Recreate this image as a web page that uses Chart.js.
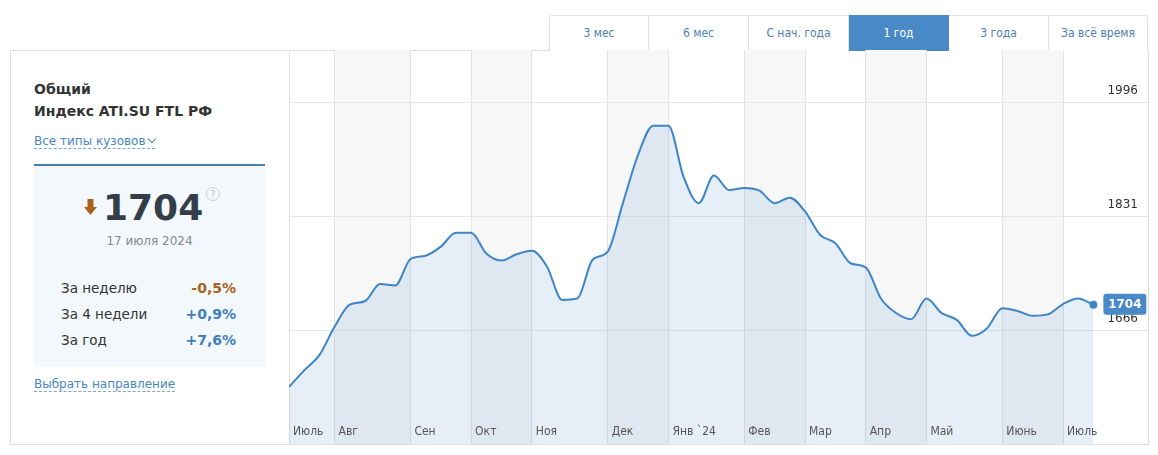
<!DOCTYPE html>
<html lang="ru">
<head>
<meta charset="utf-8">
<title>Индекс ATI.SU FTL РФ</title>
<script src="https://cdn.jsdelivr.net/npm/chart.js@4.4.1/dist/chart.umd.min.js"></script>
<style>
    body { margin: 0; width: 1158px; height: 455px; overflow: hidden; position: relative; background: #fff;
           font-family: "DejaVu Sans", Verdana, sans-serif; color: #333; }
    .card { position: absolute; left: 10px; top: 50px; width: 1139px; height: 395px; box-sizing: border-box;
            border: 1px solid #dedede; }
    .side { position: absolute; left: 10px; top: 50px; width: 280px; height: 395px; box-sizing: border-box;
            border-right: 1px solid #e2e2e2; }
    .abs { position: absolute; white-space: nowrap; }
    .title { left: 34px; font-weight: bold; font-size: 14px; line-height: 16px; color: #333; }
    .link { left: 34px; font-size: 12px; line-height: 14px; color: #4a86c0; border-bottom: 1px dashed #7aa7d4; }
    .chev { display: inline-block; width: 5px; height: 5px; border-right: 1.5px solid #4a86c0; border-bottom: 1.5px solid #4a86c0;
            transform: rotate(45deg); margin-left: 3px; position: relative; top: -3px; }
    .box { position: absolute; left: 34px; top: 164px; width: 231px; height: 203px; box-sizing: border-box;
           background: #f3f8fc; border-top: 2px solid #4d7ea8; border-radius: 0 0 4px 4px; }
    .big { left: 103px; top: 186px; font-size: 36px; font-weight: bold; line-height: 44px; color: #343e48; }
    .help { left: 206px; top: 187px; width: 12px; height: 12px; border: 1px solid #cfcfcf; border-radius: 50%;
            font-size: 9px; line-height: 12px; text-align: center; color: #bbb; }
    .date { left: 34px; width: 231px; top: 233px; text-align: center; font-size: 12px; line-height: 16px; color: #888; }
    .row-l { left: 61px; font-size: 13.5px; line-height: 16px; color: #333; }
    .row-v { right: 922px; font-size: 14px; font-weight: bold; line-height: 16px; }
    .down { color: #a8621e; }
    .up { color: #3f7fc0; }
    .tabs { position: absolute; left: 549px; top: 15px; height: 36px; display: flex; }
    .tab { width: 100px; height: 36px; box-sizing: border-box; border: 1px solid #e2e2e2; border-bottom: none;
           border-left: none; font-size: 12px; line-height: 34px; text-align: center; color: #4f7fae; background: #fff;
           font-family: "DejaVu Sans Condensed", "DejaVu Sans", sans-serif; }
    .tab:first-child { border-left: 1px solid #e2e2e2; border-radius: 3px 0 0 0; }
    .tab:last-child { width: 99px; border-radius: 0 3px 0 0; }
    .tab.active { background: #4a89c8; color: #fff; border-color: #4a89c8; }
    .chart-wrap { position: absolute; left: 289px; top: 50px; width: 859px; height: 394px; }
</style>
</head>
<body>
<div class="card"></div>
<div class="side"></div>

<div class="tabs">
    <div class="tab">3 мес</div>
    <div class="tab">6 мес</div>
    <div class="tab">С нач. года</div>
    <div class="tab active">1 год</div>
    <div class="tab">3 года</div>
    <div class="tab">За всё время</div>
</div>

<div class="abs title" style="top:81px">Общий</div>
<div class="abs title" style="top:103px">Индекс ATI.SU FTL РФ</div>
<div class="abs link" style="top:134px">Все типы кузовов<span class="chev"></span></div>

<div class="box"></div>
<svg class="abs" style="left:84px;top:199px" width="13" height="17" viewBox="0 0 13 17">
    <rect x="3.5" y="0" width="6" height="9" fill="#a8621e"/>
    <polygon points="0,8 13,8 6.5,16" fill="#a8621e"/>
</svg>
<div class="abs big">1704</div>
<div class="abs help">?</div>
<div class="abs date">17 июля 2024</div>

<div class="abs row-l" style="top:280px">За неделю</div>
<div class="abs row-v down" style="top:280px">-0,5%</div>
<div class="abs row-l" style="top:306px">За 4 недели</div>
<div class="abs row-v up" style="top:306px">+0,9%</div>
<div class="abs row-l" style="top:332px">За год</div>
<div class="abs row-v up" style="top:332px">+7,6%</div>

<div class="abs link" style="top:377px">Выбрать направление</div>

<div class="chart-wrap"><canvas id="atiChart"></canvas></div>

<script>
// Weekly index values, Jul 2023 - Jul 2024
const WEEK_VALUES = [
    1585, 1609, 1631, 1672, 1704, 1709, 1734, 1732, 1770, 1775,
    1788, 1808, 1808, 1778, 1768, 1777, 1782, 1759, 1711, 1713,
    1769, 1781, 1851, 1921, 1963, 1963, 1889, 1851, 1891, 1870,
    1873, 1869, 1851, 1859, 1839, 1805, 1793, 1764, 1758, 1713,
    1692, 1683, 1713, 1692, 1682, 1659, 1670, 1699, 1695, 1688,
    1690, 1705, 1713, 1704
];

// Month labels and the week each month starts on
const MONTH_LABELS = ['Июль', 'Авг', 'Сен', 'Окт', 'Ноя', 'Дек', 'Янв `24', 'Фев', 'Мар', 'Апр', 'Май', 'Июнь', 'Июль'];
const MONTH_START_WEEK = [0, 3, 8, 12, 16, 21, 25, 30, 34, 38, 42, 47, 51];

const Y_TICKS = [1666, 1831, 1996];
const LAST_VALUE_LABEL = '1704';

const LINE_COLOR = '#3d85c6';

// Grey stripes for every other month
const monthBands = {
    id: 'monthBands',
    beforeDraw: (chart) => {
        const { ctx, chartArea: { top, bottom }, scales: { x } } = chart;
        ctx.save();
        ctx.fillStyle = '#f7f7f7';
        MONTH_START_WEEK.forEach((start, i) => {
            if (i % 2 === 1 && i + 1 < MONTH_START_WEEK.length) {
                const x0 = x.getPixelForValue(start);
                const x1 = x.getPixelForValue(MONTH_START_WEEK[i + 1]);
                ctx.fillRect(x0, top, x1 - x0, bottom - top);
            }
        });
        ctx.restore();
    }
};

// Axis labels inside the plot + badge with last value
const overlays = {
    id: 'overlays',
    afterDatasetsDraw: (chart) => {
        const { ctx, chartArea, scales: { x, y } } = chart;
        ctx.save();
        ctx.textBaseline = 'middle';

        // month names along the bottom
        ctx.font = '12px "DejaVu Sans Condensed", "DejaVu Sans", sans-serif';
        ctx.fillStyle = '#555';
        ctx.textAlign = 'left';
        MONTH_START_WEEK.forEach((start, i) => {
            ctx.fillText(MONTH_LABELS[i], x.getPixelForValue(start) + 4, 382);
        });

        // value labels just above their grid lines
        ctx.font = '12px "DejaVu Sans", sans-serif';
        ctx.fillStyle = '#333';
        ctx.textAlign = 'right';
        Y_TICKS.forEach(v => {
            ctx.fillText(String(v), chartArea.right - 10, y.getPixelForValue(v) - 12);
        });

        // badge next to the last point
        const pts = chart.getDatasetMeta(0).data;
        const last = pts[pts.length - 1];
        const bx = last.x + 10, by = last.y - 11, bw = 43, bh = 21;
        ctx.fillStyle = '#4a89c8';
        ctx.beginPath();
        ctx.roundRect(bx, by, bw, bh, 3);
        ctx.fill();
        ctx.fillStyle = '#fff';
        ctx.font = 'bold 12px "DejaVu Sans", sans-serif';
        ctx.textAlign = 'center';
        ctx.fillText(LAST_VALUE_LABEL, bx + bw / 2, by + bh / 2 + 1);
        ctx.restore();
    }
};

const ctx = document.getElementById('atiChart').getContext('2d');
new Chart(ctx, {
    type: 'line',
    data: {
        datasets: [{
            data: WEEK_VALUES.map((v, i) => ({ x: i, y: v })),
            borderColor: LINE_COLOR,
            backgroundColor: 'rgba(60, 130, 200, 0.13)',
            borderWidth: 2,
            fill: 'start',
            cubicInterpolationMode: 'monotone',
            pointRadius: WEEK_VALUES.map((v, i) => i === WEEK_VALUES.length - 1 ? 4 : 0),
            pointBackgroundColor: LINE_COLOR,
            pointBorderWidth: 0
        }]
    },
    options: {
        responsive: true,
        maintainAspectRatio: false,
        animation: false,
        layout: { padding: 0, autoPadding: false },
        plugins: {
            legend: { display: false },
            tooltip: { enabled: false }
        },
        scales: {
            x: {
                type: 'linear',
                min: 0,
                max: 56.6,
                afterBuildTicks: (axis) => {
                    axis.ticks = MONTH_START_WEEK.map(v => ({ value: v }));
                },
                grid: { color: '#e3e3e3', drawTicks: false },
                border: { display: false },
                ticks: { display: false }
            },
            y: {
                position: 'right',
                min: 1502.4,
                max: 2072.7,
                afterBuildTicks: (axis) => {
                    axis.ticks = Y_TICKS.map(v => ({ value: v }));
                },
                grid: { color: '#e6e6e6', drawTicks: false },
                border: { display: false },
                ticks: { display: false }
            }
        }
    },
    plugins: [monthBands, overlays]
});
</script>
</body>
</html>
